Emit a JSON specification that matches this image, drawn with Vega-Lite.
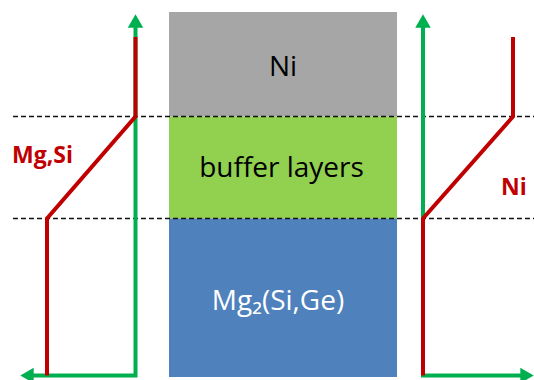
{
  "$schema": "https://vega.github.io/schema/vega-lite/v6.json",
  "width": 534,
  "height": 380,
  "autosize": "none",
  "padding": 0,
  "background": "white",
  "view": {"stroke": null},
  "datasets": {
    "layers": [
      {"name": "Ni", "x0": 169, "x1": 397, "top": 12, "bottom": 116.5, "color": "#a6a6a6"},
      {"name": "buffer", "x0": 169, "x1": 397, "top": 116.5, "bottom": 218.5, "color": "#92d050"},
      {"name": "substrate", "x0": 169, "x1": 397, "top": 218.5, "bottom": 377, "color": "#4f81bd"}
    ],
    "interfaces": [
      {"y": 116.5, "x0": 13, "x1": 534},
      {"y": 218.5, "x0": 13, "x1": 534}
    ],
    "axes": [
      {"id": "L", "o": 1, "x": 135.5, "y": 24},
      {"id": "L", "o": 2, "x": 135.5, "y": 375.5},
      {"id": "L", "o": 3, "x": 28, "y": 375.5},
      {"id": "R", "o": 1, "x": 423, "y": 24},
      {"id": "R", "o": 2, "x": 423, "y": 375.5},
      {"id": "R", "o": 3, "x": 527, "y": 375.5}
    ],
    "heads": [
      {"x": 135.5, "y": 21, "shape": "triangle-up"},
      {"x": 423, "y": 21, "shape": "triangle-up"},
      {"x": 27, "y": 375.5, "shape": "triangle-left"},
      {"x": 527, "y": 375.5, "shape": "triangle-right"}
    ],
    "profiles": [
      {"id": "MgSi", "o": 1, "x": 47, "y": 375.5},
      {"id": "MgSi", "o": 2, "x": 47, "y": 218.5},
      {"id": "MgSi", "o": 3, "x": 135.5, "y": 116.5},
      {"id": "MgSi", "o": 4, "x": 135.5, "y": 37},
      {"id": "Ni", "o": 1, "x": 423, "y": 375.5},
      {"id": "Ni", "o": 2, "x": 423, "y": 218.5},
      {"id": "Ni", "o": 3, "x": 513, "y": 116.5},
      {"id": "Ni", "o": 4, "x": 513, "y": 37}
    ],
    "layerLabels": [
      {"text": "Ni", "x": 283, "y": 76, "color": "black"},
      {"text": "buffer layers", "x": 281.5, "y": 177, "color": "black"},
      {"text": "Mg₂(Si,Ge)", "x": 278, "y": 310, "color": "white"}
    ],
    "profileLabels": [
      {"text": "Mg,Si", "x": 12, "y": 163},
      {"text": "Ni", "x": 501, "y": 195}
    ]
  },
  "layer": [
    {
      "data": {"name": "layers"},
      "mark": {"type": "rect"},
      "encoding": {
        "x": {"field": "x0", "type": "quantitative", "scale": {"domain": [0, 534], "nice": false, "zero": false}, "axis": null},
        "x2": {"field": "x1"},
        "y": {"field": "top", "type": "quantitative", "scale": {"domain": [380, 0], "nice": false, "zero": false}, "axis": null},
        "y2": {"field": "bottom"},
        "color": {"field": "color", "type": "nominal", "scale": null, "legend": null}
      }
    },
    {
      "data": {"name": "interfaces"},
      "mark": {"type": "rule", "color": "#111111", "strokeWidth": 1.6, "strokeDash": [5, 3]},
      "encoding": {
        "x": {"field": "x0", "type": "quantitative"},
        "x2": {"field": "x1"},
        "y": {"field": "y", "type": "quantitative"}
      }
    },
    {
      "data": {"name": "axes"},
      "mark": {"type": "line", "color": "#00b050", "strokeWidth": 4},
      "encoding": {
        "x": {"field": "x", "type": "quantitative"},
        "y": {"field": "y", "type": "quantitative"},
        "detail": {"field": "id"},
        "order": {"field": "o"}
      }
    },
    {
      "data": {"name": "heads"},
      "mark": {"type": "point", "filled": true, "color": "#00b050", "opacity": 1, "size": 240},
      "encoding": {
        "x": {"field": "x", "type": "quantitative"},
        "y": {"field": "y", "type": "quantitative"},
        "shape": {"field": "shape", "type": "nominal", "scale": null, "legend": null}
      }
    },
    {
      "data": {"name": "profiles"},
      "mark": {"type": "line", "color": "#c00000", "strokeWidth": 4},
      "encoding": {
        "x": {"field": "x", "type": "quantitative"},
        "y": {"field": "y", "type": "quantitative"},
        "detail": {"field": "id"},
        "order": {"field": "o"}
      }
    },
    {
      "data": {"name": "layerLabels"},
      "mark": {"type": "text", "font": "Open Sans", "fontSize": 28, "align": "center", "baseline": "alphabetic"},
      "encoding": {
        "x": {"field": "x", "type": "quantitative"},
        "y": {"field": "y", "type": "quantitative"},
        "text": {"field": "text"},
        "color": {"field": "color", "type": "nominal", "scale": null, "legend": null}
      }
    },
    {
      "data": {"name": "profileLabels"},
      "mark": {"type": "text", "font": "Open Sans", "fontSize": 23, "fontWeight": "bold", "align": "left", "baseline": "alphabetic", "color": "#c00000"},
      "encoding": {
        "x": {"field": "x", "type": "quantitative"},
        "y": {"field": "y", "type": "quantitative"},
        "text": {"field": "text"}
      }
    }
  ]
}
